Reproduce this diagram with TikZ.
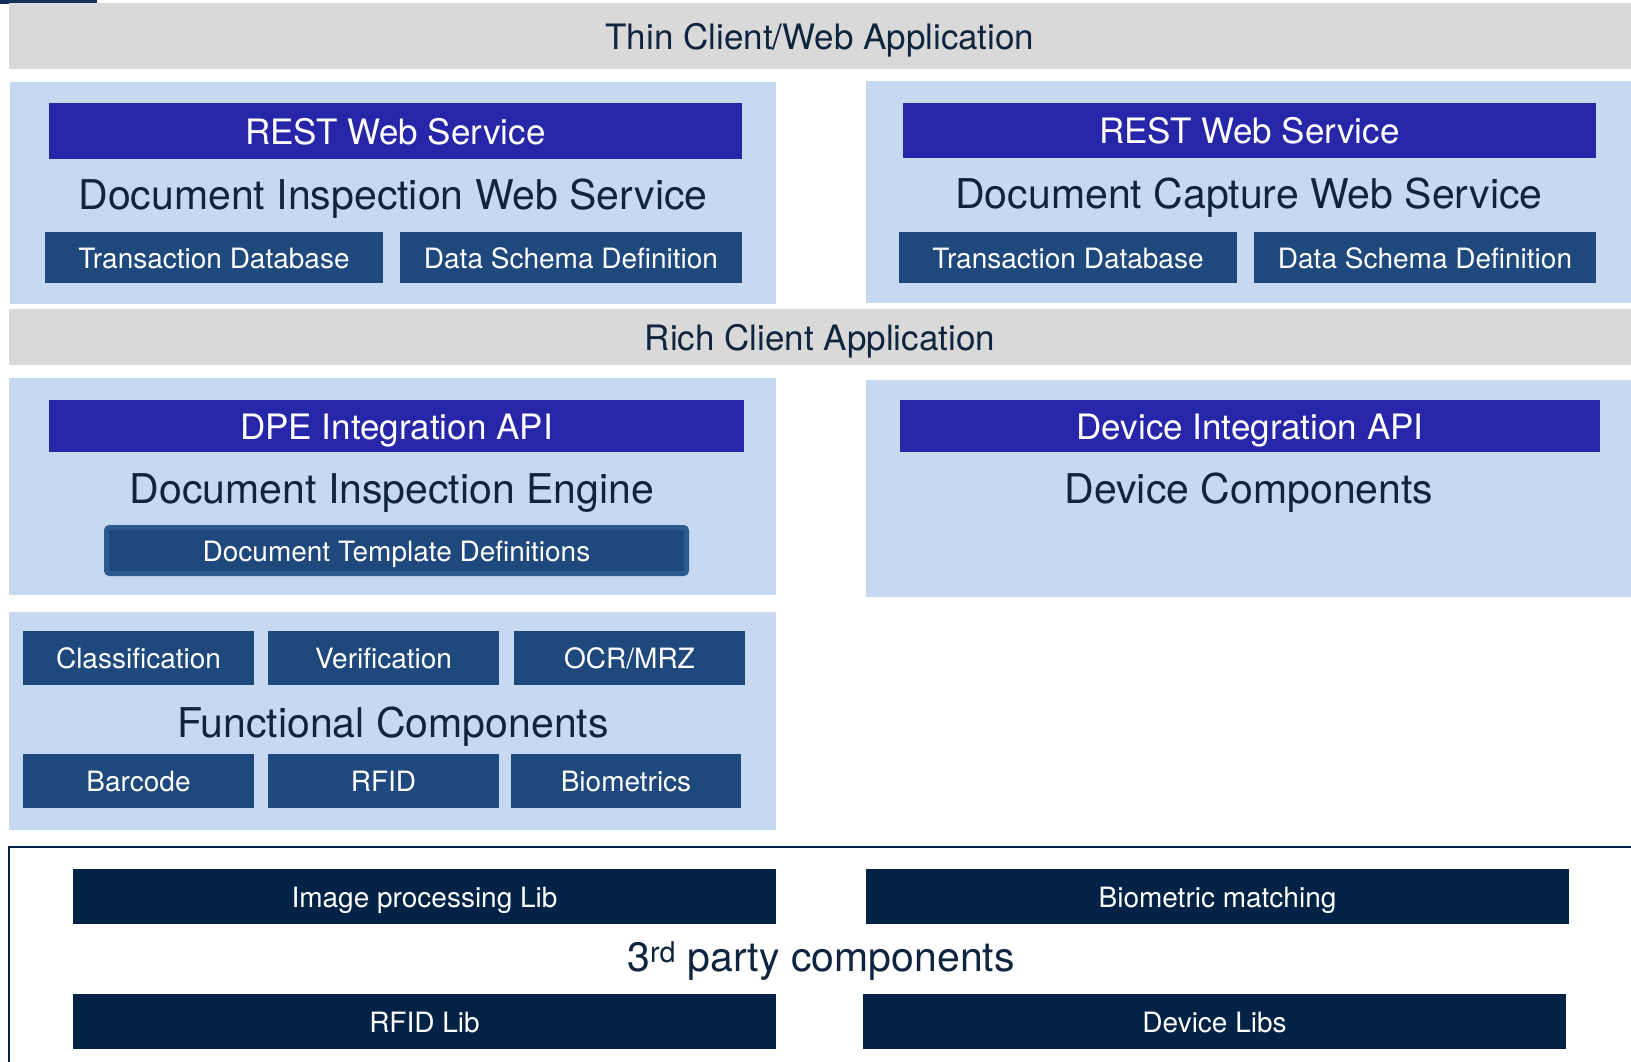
\documentclass[tikz,border=0pt]{standalone}
\usepackage{fontspec}
\setmainfont{TeX Gyre Heros}
\definecolor{cgrey}{HTML}{D9D9D9}
\definecolor{cpanel}{HTML}{C6D9F0}
\definecolor{croyal}{HTML}{2826A8}
\definecolor{csteel}{HTML}{1F497D}
\definecolor{csteellight}{HTML}{2E5B8F}
\definecolor{cnavy}{HTML}{022246}
\definecolor{ctext}{HTML}{0F243E}
\definecolor{cstrip}{HTML}{17305A}
\newcommand\bx[7]{\node[#6, minimum width={(#4-#2)*1pt}, minimum height={(#5-#3)*1pt}] (#1) at ({(#2+#4)/2},{(#3+#5)/2}) {#7};}
\tikzset{
  every node/.style={inner sep=0pt, outer sep=0pt},
  greybar/.style={fill=cgrey, text=ctext, font=\fontsize{35}{40}\selectfont, text height=27pt, text depth=0pt},
  panel/.style={fill=cpanel},
  restbar/.style={fill=croyal, text=white, font=\fontsize{35}{40}\selectfont, text height=26.6pt, text depth=0pt},
  smallbox/.style={fill=csteel, text=white, font=\fontsize{28}{32}\selectfont, text height=21.3pt, text depth=0pt},
  tmplbox/.style={fill=csteel, draw=csteellight, line width=5pt, rounded corners=3pt, text=white, font=\fontsize{28}{32}\selectfont, text height=21.3pt, text depth=0pt},
  navybox/.style={fill=cnavy, text=white, font=\fontsize{28}{32}\selectfont, text height=21.3pt, text depth=0pt},
  titletext/.style={text=ctext, font=\fontsize{41}{46}\selectfont, text height=29.5pt, text depth=0pt},
  framestyle/.style={draw=cnavy, line width=1.5pt},
}
\begin{document}
\begin{tikzpicture}[x=1pt,y=-1pt]
\useasboundingbox[fill=white] (0,0) rectangle (1631,1061);
\fill[cstrip] (0,0) rectangle (97,4);
% top grey bar
\bx{thin}{9}{3}{1631}{69}{greybar}{Thin Client/Web Application}
% web service panels
\bx{p1}{10}{82}{776}{304}{panel}{}
\bx{p2}{866}{81}{1631}{303}{panel}{}
\bx{rest1}{49}{103}{742}{159}{restbar}{REST Web Service}
\bx{rest2}{903}{103}{1596}{158}{restbar}{REST Web Service}
\node[titletext] (t1) at (393,195) {Document Inspection Web Service};
\node[titletext] (t2) at (1249,194) {Document Capture Web Service};
\bx{td1}{45}{232}{383}{283}{smallbox}{Transaction Database}
\bx{ds1}{400}{232}{742}{283}{smallbox}{Data Schema Definition}
\bx{td2}{899}{232}{1237}{283}{smallbox}{Transaction Database}
\bx{ds2}{1254}{232}{1596}{283}{smallbox}{Data Schema Definition}
% rich client bar
\bx{rich}{9}{309}{1631}{365}{greybar}{Rich Client Application}
% engine panels
\bx{p3}{9}{378}{776}{595}{panel}{}
\bx{p4}{866}{380}{1631}{597}{panel}{}
\bx{dpe}{49}{400}{744}{452}{restbar}{DPE Integration API}
\bx{dev}{900}{400}{1600}{452}{restbar}{Device Integration API}
\node[titletext] (t3) at (392,489) {Document Inspection Engine};
\node[titletext] (t4) at (1249,489) {Device Components};
\bx{dtd}{106.5}{527.5}{686.5}{573.5}{tmplbox}{Document Template Definitions}
% functional components
\bx{p5}{9}{612}{776}{830}{panel}{}
\bx{cls}{23}{631}{254}{685}{smallbox}{Classification}
\bx{ver}{268}{631}{499}{685}{smallbox}{Verification}
\bx{ocr}{514}{631}{745}{685}{smallbox}{OCR/MRZ}
\node[titletext] (t5) at (393,723) {Functional Components};
\bx{bar}{23}{754}{254}{808}{smallbox}{Barcode}
\bx{rfid}{268}{754}{499}{808}{smallbox}{RFID}
\bx{bio}{511}{754}{741}{808}{smallbox}{Biometrics}
% 3rd party frame
\coordinate (fa) at (9,1070);
\coordinate (fb) at (9,847);
\coordinate (fc) at (1640,847);
\draw[framestyle] (fa) -- (fb) -- (fc);
\bx{img}{73}{869}{776}{924}{navybox}{Image processing Lib}
\bx{biom}{866}{869}{1569}{924}{navybox}{Biometric matching}
\node[titletext] (t6) at (821,957) {3\textsuperscript{rd} party components};
\bx{rfidlib}{73}{994}{776}{1049}{navybox}{RFID Lib}
\bx{devlibs}{863}{994}{1566}{1049}{navybox}{Device Libs}
\end{tikzpicture}
\end{document}
